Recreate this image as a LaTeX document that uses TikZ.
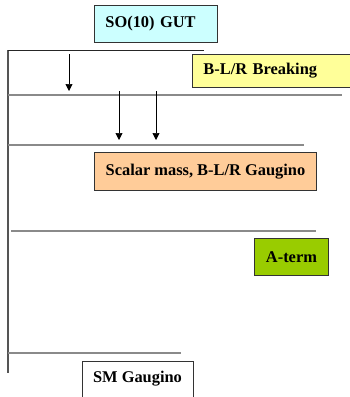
\documentclass[tikz,border=0pt]{standalone}
\usepackage{fontspec}
\setmainfont{Liberation Serif}
\usetikzlibrary{arrows.meta}
\definecolor{cyanbox}{HTML}{CCFFFF}
\definecolor{yellowbox}{HTML}{FFFF99}
\definecolor{peachbox}{HTML}{FFCC99}
\definecolor{greenbox}{HTML}{99CC00}
\definecolor{rule}{HTML}{8A8A8A}
\definecolor{axis}{HTML}{555555}
\begin{document}
\begin{tikzpicture}[x=1pt,y=-1pt,
  box/.style={draw=black!80, line width=0.9pt, rectangle, anchor=north west,
    font=\fontsize{16.4}{18}\selectfont\bfseries, inner sep=0pt},
  level/.style={draw=rule, line width=1.2pt},
  axisline/.style={draw=axis, line width=1.2pt},
  flow/.style={draw=black, line width=0.7pt, -{Triangle[length=7pt,width=7pt]}}]
\useasboundingbox (0,0) rectangle (350,397);
% axis and levels
\coordinate (axtop) at (8,50);
\coordinate (axbot) at (8,373);
\draw[axisline] (axtop) -- (axbot);
\coordinate (l1a) at (8,50);   \coordinate (l1b) at (204,50);
\coordinate (l2a) at (8,95);   \coordinate (l2b) at (342,95);
\coordinate (l3a) at (8,145);  \coordinate (l3b) at (304,145);
\coordinate (l4a) at (11,231); \coordinate (l4b) at (316,231);
\coordinate (l5a) at (8,353);  \coordinate (l5b) at (181,353);
\draw[draw=black!85, line width=0.9pt] (l1a) -- (l1b);
\draw[level] (l2a) -- (l2b);
\draw[level] (l3a) -- (l3b);
\draw[level] (l4a) -- (l4b);
\draw[level] (l5a) -- (l5b);
% boxes
\node[box, fill=cyanbox, minimum width=123, minimum height=37, text width=101, align=left, inner xsep=11pt] (gut) at (94,5) {SO(10) GUT};
\node[box, fill=yellowbox, minimum width=170, minimum height=33, text width=148, align=left, inner xsep=11pt] (blr) at (192,54) {B-L/R Breaking};
\node[box, fill=peachbox, minimum width=222, minimum height=38] (scalar) at (94,152) {Scalar mass, B-L/R Gaugino};
\node[box, fill=greenbox, minimum width=74, minimum height=37] (aterm) at (254,238) {A-term};
\node[box, fill=white, minimum width=111, anchor=north, inner ysep=10pt, text depth=32pt] (sm) at (137.5,361) {SM Gaugino};
% arrows
\coordinate (a1s) at (69,54);  \coordinate (a1e) at (69,91);
\coordinate (a2s) at (119,91); \coordinate (a2e) at (119,140);
\coordinate (a3s) at (156,91); \coordinate (a3e) at (156,140);
\draw[flow] (a1s) -- (a1e);
\draw[flow] (a2s) -- (a2e);
\draw[flow] (a3s) -- (a3e);
\end{tikzpicture}
\end{document}
